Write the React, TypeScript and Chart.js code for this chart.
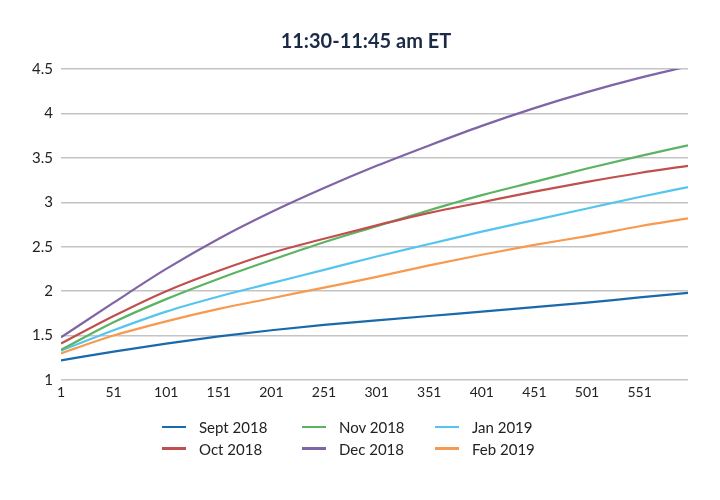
import React, { useEffect, useRef } from "react";
import { Chart, registerables } from "chart.js";

Chart.register(...registerables);

const TITLE = "11:30-11:45 am ET";
const X_POINTS = [1, 51, 101, 151, 201, 251, 301, 351, 401, 451, 501, 551, 597];
const X_TICKS = [1, 51, 101, 151, 201, 251, 301, 351, 401, 451, 501, 551];

const SEPT_2018 = [1.22, 1.32, 1.41, 1.49, 1.56, 1.62, 1.67, 1.72, 1.77, 1.82, 1.87, 1.93, 1.98];
const OCT_2018 = [1.41, 1.72, 2.0, 2.23, 2.43, 2.59, 2.74, 2.88, 3.0, 3.12, 3.23, 3.33, 3.41];
const NOV_2018 = [1.34, 1.65, 1.91, 2.14, 2.35, 2.55, 2.73, 2.91, 3.08, 3.23, 3.38, 3.52, 3.64];
const DEC_2018 = [1.48, 1.87, 2.25, 2.59, 2.89, 3.16, 3.41, 3.64, 3.86, 4.06, 4.24, 4.4, 4.53];
const JAN_2019 = [1.33, 1.56, 1.77, 1.94, 2.09, 2.24, 2.39, 2.53, 2.67, 2.8, 2.93, 3.06, 3.17];
const FEB_2019 = [1.3, 1.5, 1.66, 1.8, 1.92, 2.04, 2.16, 2.29, 2.41, 2.52, 2.62, 2.73, 2.82];

const SERIES = [
  { label: "Sept 2018", data: SEPT_2018, color: "#1a6aab" },
  { label: "Oct 2018", data: OCT_2018, color: "#c0504d" },
  { label: "Nov 2018", data: NOV_2018, color: "#5bb463" },
  { label: "Dec 2018", data: DEC_2018, color: "#7f64a6" },
  { label: "Jan 2019", data: JAN_2019, color: "#56c5ee" },
  { label: "Feb 2019", data: FEB_2019, color: "#f79a4f" },
];

// legend layout: column-wise order as in the reference
const LEGEND_ORDER = [
  ["Sept 2018", "Nov 2018", "Jan 2019"],
  ["Oct 2018", "Dec 2018", "Feb 2019"],
];
const LEGEND_COLS = [162, 302, 435];

const FONT = "Lato, 'Noto Sans', sans-serif";

export default function App() {
  const canvasRef = useRef<HTMLCanvasElement | null>(null);

  useEffect(() => {
    document.body.style.margin = "0";
    const canvas = canvasRef.current;
    if (!canvas) return;
    const chart = new Chart(canvas, {
      type: "line",
      data: {
        datasets: SERIES.map((s) => ({
          label: s.label,
          data: X_POINTS.map((x, i) => ({ x, y: s.data[i] })),
          borderColor: s.color,
          backgroundColor: s.color,
          borderWidth: 2.2,
          pointRadius: 0,
          cubicInterpolationMode: "monotone" as const,
          fill: false,
        })),
      },
      options: {
        animation: false,
        responsive: false,
        devicePixelRatio: 1,
        layout: { padding: { left: 8, right: 32, top: 69, bottom: 90 } },
        plugins: {
          legend: { display: false },
          title: { display: false },
          tooltip: { enabled: false },
        },
        scales: {
          x: {
            type: "linear",
            min: 1,
            max: 597,
            grid: { display: false, drawTicks: false },
            border: { display: false },
            afterBuildTicks: (scale: any) => {
              scale.ticks = X_TICKS.map((v) => ({ value: v }));
            },
            afterFit: (scale: any) => {
              scale.height = 30;
            },
            ticks: {
              autoSkip: false,
              maxRotation: 0,
              padding: 4,
              color: "#222222",
              font: { family: FONT, size: 14 },
              callback: (v: any) => String(v),
            },
          },
          y: {
            min: 1,
            max: 4.5,
            grid: { color: "#c4c4c4", lineWidth: 1.5, drawTicks: false },
            border: { display: false },
            afterFit: (scale: any) => {
              scale.width = 53;
            },
            ticks: {
              stepSize: 0.5,
              padding: 8,
              color: "#222222",
              font: { family: FONT, size: 15 },
              callback: (v: any) => String(v),
            },
          },
        },
      },
    });
    return () => chart.destroy();
  }, []);

  const colorOf = (label: string) => SERIES.find((s) => s.label === label)!.color;

  return (
    <div style={{ position: "relative", width: 720, height: 500, background: "#ffffff", fontFamily: FONT }}>
      <canvas ref={canvasRef} width={720} height={500} style={{ position: "absolute", left: 0, top: 0 }} />
      <div
        style={{
          position: "absolute",
          left: 0,
          top: 28,
          width: 732,
          textAlign: "center",
          fontSize: 20,
          fontWeight: 700,
          color: "#1b2a47",
          lineHeight: "24px",
        }}
      >
        {TITLE}
      </div>
      {LEGEND_ORDER.map((row, ri) =>
        row.map((label, ci) => (
          <div
            key={label}
            style={{
              position: "absolute",
              left: LEGEND_COLS[ci],
              top: 417 + ri * 21.5,
              height: 20,
              display: "flex",
              alignItems: "center",
              fontSize: 15,
              color: "#222222",
              whiteSpace: "nowrap",
            }}
          >
            <span style={{ display: "inline-block", width: 24, height: 2.5, background: colorOf(label), marginRight: 13 }} />
            <span>{label}</span>
          </div>
        ))
      )}
    </div>
  );
}
